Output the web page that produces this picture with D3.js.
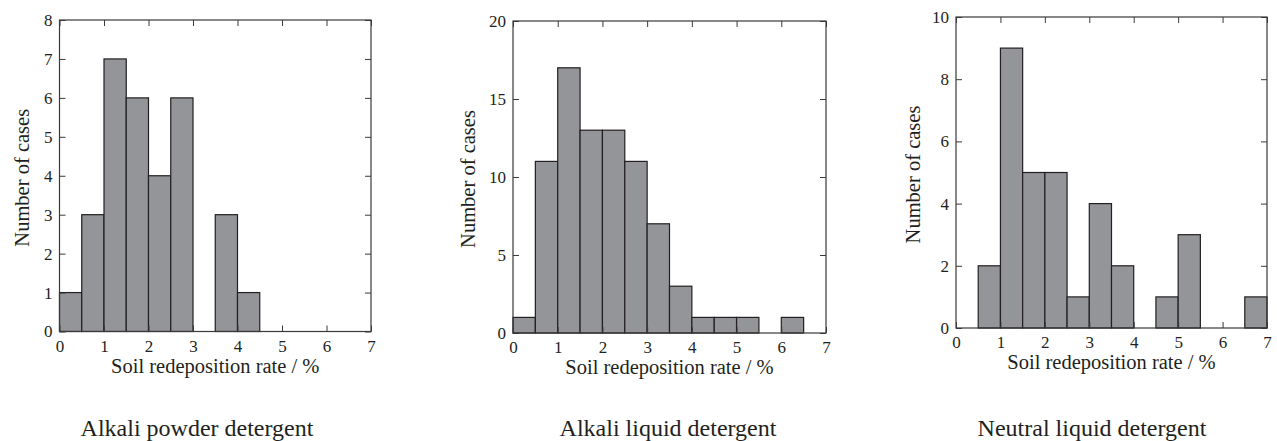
<!DOCTYPE html>
<html>
<head>
<meta charset="utf-8">
<script src="https://cdn.jsdelivr.net/npm/d3@7"></script>
<style>
  html, body { margin: 0; padding: 0; background: #ffffff; }
  svg { display: block; }
  text { font-family: "Liberation Serif", "Times New Roman", serif; fill: #231f20; }
</style>
</head>
<body>
<svg id="chart" width="1277" height="441"></svg>
<script>
// Histogram bins: 0.5 %-wide classes from 0 to 7 %
const binEdges = [0, 0.5, 1, 1.5, 2, 2.5, 3, 3.5, 4, 4.5, 5, 5.5, 6, 6.5, 7];
const xTicks = [0, 1, 2, 3, 4, 5, 6, 7];

// Counts per bin for each detergent type
const alkaliPowder = [1, 3, 7, 6, 4, 6, 0, 3, 1, 0, 0, 0, 0, 0];
const alkaliLiquid = [1, 11, 17, 13, 13, 11, 7, 3, 1, 1, 1, 0, 1, 0];
const neutralLiquid = [0, 2, 9, 5, 5, 1, 4, 2, 0, 1, 3, 0, 0, 1];

const yTicksPowder = [0, 1, 2, 3, 4, 5, 6, 7, 8];
const yTicksAlkLiquid = [0, 5, 10, 15, 20];
const yTicksNeutral = [0, 2, 4, 6, 8, 10];

const captions = ["Alkali powder detergent", "Alkali liquid detergent", "Neutral liquid detergent"];
const xTitle = "Soil redeposition rate / %";
const yTitle = "Number of cases";

const panels = [
  { counts: alkaliPowder, yMax: 8, yTicks: yTicksPowder, caption: captions[0],
    left: 59.5, right: 371, top: 20, bottom: 331.5, titleX: 22, capX: 197 },
  { counts: alkaliLiquid, yMax: 20, yTicks: yTicksAlkLiquid, caption: captions[1],
    left: 513, right: 826, top: 21, bottom: 333, titleX: 468, capX: 668 },
  { counts: neutralLiquid, yMax: 10, yTicks: yTicksNeutral, caption: captions[2],
    left: 956, right: 1267, top: 17, bottom: 328, titleX: 913, capX: 1092 }
];

const svg = d3.select("#chart");
const frameColor = "#3a3a3a";
const tickLen = 6;

panels.forEach(p => {
  const x = d3.scaleLinear().domain([0, 7]).range([p.left, p.right]);
  const y = d3.scaleLinear().domain([0, p.yMax]).range([p.bottom, p.top]);
  const g = svg.append("g");

  // bars
  const bins = p.counts.map((c, i) => ({ x0: binEdges[i], x1: binEdges[i + 1], n: c }))
    .filter(d => d.n > 0);
  g.selectAll("rect.bar").data(bins).enter().append("rect")
    .attr("class", "bar")
    .attr("x", d => x(d.x0))
    .attr("y", d => y(d.n))
    .attr("width", d => x(d.x1) - x(d.x0))
    .attr("height", d => y(0) - y(d.n))
    .attr("fill", "#939598")
    .attr("stroke", "#231f20")
    .attr("stroke-width", 1.2);

  // axes with inward ticks
  const styleAxis = sel => {
    sel.select(".domain").remove();
    sel.selectAll(".tick line").attr("stroke", frameColor).attr("stroke-width", 1);
    sel.selectAll(".tick text").style("font-family", "'Liberation Serif', 'Times New Roman', serif")
      .style("font-size", "17px").attr("fill", "#231f20");
  };

  g.append("g").attr("transform", `translate(0,${p.bottom})`)
    .call(d3.axisBottom(x).tickValues(xTicks).tickFormat(d3.format("d"))
      .tickSizeInner(-tickLen).tickSizeOuter(0).tickPadding(8))
    .call(styleAxis);
  g.append("g").attr("transform", `translate(0,${p.top})`)
    .call(d3.axisTop(x).tickValues(xTicks).tickFormat("")
      .tickSizeInner(-tickLen).tickSizeOuter(0))
    .call(styleAxis);
  g.append("g").attr("transform", `translate(${p.left},0)`)
    .call(d3.axisLeft(y).tickValues(p.yTicks).tickFormat(d3.format("d"))
      .tickSizeInner(-tickLen).tickSizeOuter(0).tickPadding(7))
    .call(styleAxis);
  g.append("g").attr("transform", `translate(${p.right},0)`)
    .call(d3.axisRight(y).tickValues(p.yTicks).tickFormat("")
      .tickSizeInner(-tickLen).tickSizeOuter(0))
    .call(styleAxis);

  // plot frame
  g.append("rect")
    .attr("x", p.left).attr("y", p.top)
    .attr("width", p.right - p.left).attr("height", p.bottom - p.top)
    .attr("fill", "none").attr("stroke", frameColor).attr("stroke-width", 1.2);

  // axis titles
  g.append("text")
    .attr("x", (p.left + p.right) / 2).attr("y", p.bottom + 41)
    .attr("text-anchor", "middle").style("font-size", "20.5px")
    .text(xTitle);
  g.append("text")
    .attr("transform", `translate(${p.titleX},${(p.top + p.bottom) / 2 + 2}) rotate(-90)`)
    .attr("text-anchor", "middle").attr("dominant-baseline", "central")
    .style("font-size", "20.5px")
    .text(yTitle);

  // panel caption
  g.append("text")
    .attr("x", p.capX).attr("y", 436)
    .attr("text-anchor", "middle").style("font-size", "24px")
    .text(p.caption);
});
</script>
</body>
</html>
